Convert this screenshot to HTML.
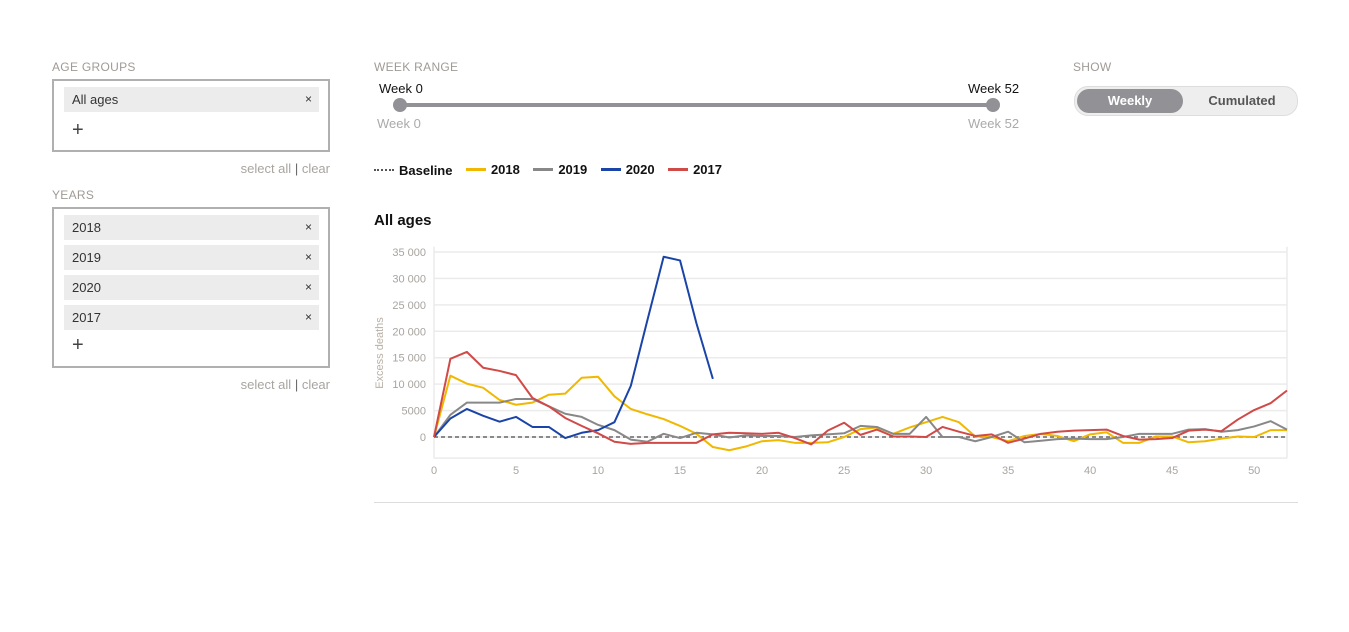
<!DOCTYPE html>
<html><head><meta charset="utf-8"><style>
body{margin:0;width:1349px;height:632px;background:#fff;font-family:"Liberation Sans",sans-serif;position:relative;overflow:hidden}
.abs{position:absolute}
.lbl{font-size:12px;color:#a09a96;letter-spacing:.3px}
.box{border:2px solid #b0b0b0;width:274px;background:#fff}
.tag{background:#ececec;margin:6px 9px 0 10px;height:25px;line-height:25px;font-size:13px;color:#333;padding:0 8px;position:relative}
.tag span{position:absolute;right:7px;font-size:12px}
.plus{font-size:20px;color:#444;margin:7px 0 0 18px;height:24px}
.links{font-size:13px;color:#a8a4a0;text-align:right;width:278px}
.leg{font-size:13px;font-weight:bold;color:#111;display:inline-flex;align-items:center;margin-right:9px}
.leg i{display:inline-block;width:20px;height:3px;margin-right:5px}
</style></head><body>
<div class="abs lbl" style="left:52px;top:60px">AGE GROUPS</div>
<div class="abs box" style="left:52px;top:79px;height:69px">
<div class="tag">All ages<span>×</span></div>
<div class="plus">+</div></div>
<div class="abs links" style="left:52px;top:161px">select all <span style="color:#666">|</span> clear</div>
<div class="abs lbl" style="left:52px;top:188px">YEARS</div>
<div class="abs box" style="left:52px;top:207px;height:157px">
<div class="tag">2018<span>×</span></div>
<div class="tag" style="margin-top:5px">2019<span>×</span></div>
<div class="tag" style="margin-top:5px">2020<span>×</span></div>
<div class="tag" style="margin-top:5px">2017<span>×</span></div>
<div class="plus" style="margin-top:4px">+</div></div>
<div class="abs links" style="left:52px;top:377px">select all <span style="color:#666">|</span> clear</div>

<div class="abs lbl" style="left:374px;top:60px">WEEK RANGE</div>
<div class="abs" style="left:379px;top:81px;font-size:13px;color:#111">Week 0</div>
<div class="abs" style="left:968px;top:81px;font-size:13px;color:#111">Week 52</div>
<div class="abs" style="left:400px;top:103px;width:593px;height:4px;background:#919196"></div>
<div class="abs" style="left:393px;top:98px;width:14px;height:14px;border-radius:50%;background:#919196"></div>
<div class="abs" style="left:986px;top:98px;width:14px;height:14px;border-radius:50%;background:#919196"></div>
<div class="abs" style="left:377px;top:116px;font-size:13px;color:#aaa">Week 0</div>
<div class="abs" style="left:968px;top:116px;font-size:13px;color:#aaa">Week 52</div>

<div class="abs lbl" style="left:1073px;top:60px">SHOW</div>
<div class="abs" style="left:1074px;top:86px;width:222px;height:28px;border-radius:14px;background:#eee;border:1px solid #ddd">
<div class="abs" style="left:2px;top:2px;width:106px;height:24px;border-radius:12px;background:#919196;color:#fff;font-weight:bold;font-size:13px;text-align:center;line-height:24px">Weekly</div>
<div class="abs" style="left:112px;top:2px;width:110px;height:24px;color:#555;font-weight:bold;font-size:13px;text-align:center;line-height:24px">Cumulated</div></div>

<div class="abs" style="left:374px;top:158px">
<span class="leg"><i style="background:none;border-top:2px dotted #555;height:0"></i>Baseline</span>
<span class="leg"><i style="background:#f0b800"></i>2018</span>
<span class="leg"><i style="background:#888"></i>2019</span>
<span class="leg"><i style="background:#1a44a8"></i>2020</span>
<span class="leg"><i style="background:#d04a48"></i>2017</span></div>
<div class="abs" style="left:374px;top:212px;font-size:15px;font-weight:bold;color:#111">All ages</div>
<div class="abs" style="left:374px;top:502px;width:924px;height:1px;background:#ddd"></div>

<svg class="abs" style="left:0;top:0" width="1349" height="632" id="chart"></svg>
<script>
const weeks=[...Array(53).keys()];
const yTicks=[0,5000,10000,15000,20000,25000,30000,35000];
const xTicks=[0,5,10,15,20,25,30,35,40,45,50];
const s2018=[0,11600,10100,9300,7000,6100,6500,8000,8200,11200,11400,7700,5300,4300,3400,2100,600,-1900,-2500,-1800,-800,-600,-1100,-1100,-1000,0,1500,1800,600,1800,2800,3800,2800,100,0,-800,200,600,200,-800,500,900,-1100,-1100,100,100,-1000,-800,-300,100,0,1300,1300];
const s2019=[0,4200,6500,6500,6500,7200,7200,5800,4400,3800,2300,1300,-500,-900,600,-200,800,500,-100,300,200,200,0,300,500,700,2100,1900,600,600,3800,0,0,-800,0,1000,-1000,-700,-400,-300,-400,-400,0,600,600,600,1400,1500,1000,1300,2000,3000,1400];
const s2020=[0,3500,5300,4000,2900,3800,1900,1900,-200,800,1300,2800,9700,22000,34100,33400,21500,11000];
const s2017=[0,14800,16100,13100,12500,11700,7400,5800,3600,2100,700,-900,-1300,-1100,-1100,-1100,-1100,500,800,700,600,800,-200,-1400,1200,2700,400,1400,100,100,0,1900,1000,200,500,-1100,-300,600,1000,1200,1300,1400,200,-500,-400,-200,1200,1400,1100,3300,5100,6400,8800];
const series=[[s2018,'#f0b800','line-2018'],[s2019,'#888','line-2019'],[s2020,'#1a44a8','line-2020'],[s2017,'#d04a48','line-2017']];
const X=w=>434+w*(1287-434)/52, Y=v=>437-v*26.43/5000;
const svg=document.getElementById('chart'),NS='http://www.w3.org/2000/svg';
function mk(t,a,txt){const e=document.createElementNS(NS,t);for(const k in a)e.setAttribute(k,a[k]);if(txt!=null)e.textContent=txt;svg.appendChild(e);return e;}
yTicks.forEach(v=>{
const g=mk('line',{x1:434,x2:1287,y1:Y(v),y2:Y(v),stroke:'#ebebeb','stroke-width':1.5});


const t=mk('text',{x:426,y:Y(v)+4,'text-anchor':'end','font-size':11,fill:'#a8a4a0','font-family':'Liberation Sans'},v===0?'0':v>=10000?String(v).slice(0,-3)+' 000':String(v));

});
const bl=mk('line',{x1:434,x2:1287,y1:Y(-4000),y2:Y(-4000),stroke:'#ebebeb','stroke-width':1.5});


[434,1287].forEach(x=>{const l=mk('line',{x1:x,x2:x,y1:Y(36000),y2:Y(-4000),stroke:'#ebebeb','stroke-width':1.5});

});
xTicks.forEach(w=>{const t=mk('text',{x:X(w),y:474,'text-anchor':'middle','font-size':11,fill:'#a8a4a0','font-family':'Liberation Sans'},String(w));

});
const yt=mk('text',{x:383,y:353,'text-anchor':'middle','font-size':11,fill:'#b8b0a4','font-family':'Liberation Sans',transform:'rotate(-90 383 353)'},'Excess deaths');


const base=mk('line',{x1:434,x2:1287,y1:Y(0),y2:Y(0),stroke:'#666','stroke-width':1.5,'stroke-dasharray':'4 3'});


series.forEach(([d,c,n])=>{const p=mk('polyline',{points:d.map((v,i)=>X(weeks[i])+','+Y(v)).join(' '),fill:'none',stroke:c,'stroke-width':2,'stroke-linejoin':'round'});

});
</script>
</body></html>
